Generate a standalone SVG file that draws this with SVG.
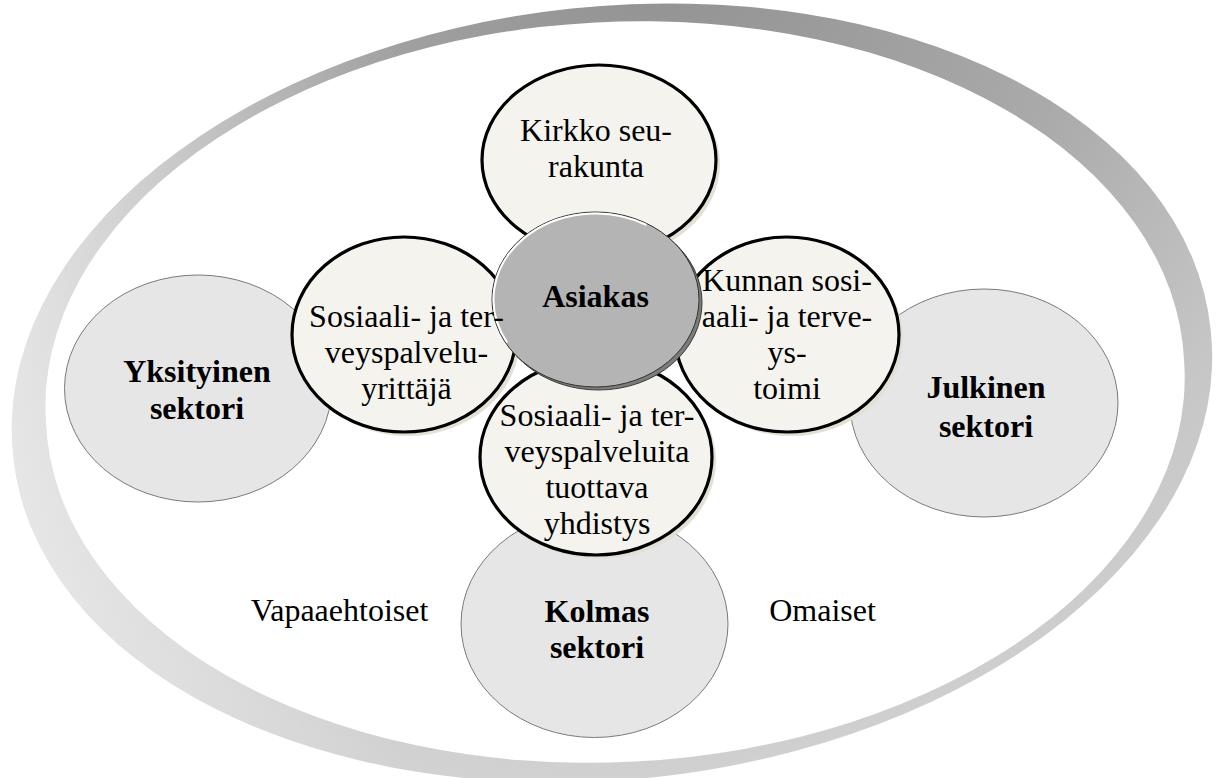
<svg xmlns="http://www.w3.org/2000/svg" width="1225" height="778" viewBox="0 0 1225 778">
  <defs>
    <radialGradient id="ringGrad" gradientUnits="userSpaceOnUse" cx="650" cy="-100" r="900">
      <stop offset="0.12" stop-color="#959595"/>
      <stop offset="0.5" stop-color="#aaaaaa"/>
      <stop offset="0.8" stop-color="#c6c6c6"/>
      <stop offset="1" stop-color="#d2d2d2"/>
    </radialGradient>
    <linearGradient id="leftFade" gradientUnits="userSpaceOnUse" x1="0" y1="0" x2="400" y2="0">
      <stop offset="0" stop-color="#fff" stop-opacity="0.5"/>
      <stop offset="1" stop-color="#fff" stop-opacity="0"/>
    </linearGradient>
    <path id="ringPath" fill-rule="evenodd" d="M1210.7,330.1 A602,385 -6 1 1 13.3,455.9 A602,385 -6 1 1 1210.7,330.1 Z M1184.2,362.2 A570,367 -3 1 1 45.8,421.8 A570,367 -3 1 1 1184.2,362.2 Z"/>
  </defs>
  <style>
    text { font-family: "Liberation Serif", "Times New Roman", serif; font-size: 32px; fill: #000; text-anchor: middle; }
    .b { font-weight: bold; }
    .sector { fill: #e6e6e6; stroke: #7a7a7a; stroke-width: 1; }
    .petal { fill: #f4f3ee; stroke: #000; stroke-width: 3.2; }
    .pshadow { fill: #e3e1d4; }
  </style>
  <rect width="1225" height="778" fill="#fff"/>

  <g id="ring">
    <use href="#ringPath" fill="url(#ringGrad)"/>
    <use href="#ringPath" fill="url(#leftFade)"/>
  </g>

  <g id="yksityinen">
    <ellipse class="sector" cx="198" cy="388.5" rx="133.5" ry="113.5"/>
    <text class="b" x="197" y="382">Yksityinen</text>
    <text class="b" x="197" y="419">sektori</text>
  </g>

  <g id="julkinen">
    <ellipse class="sector" cx="984" cy="403" rx="134" ry="114"/>
    <text class="b" x="986" y="398">Julkinen</text>
    <text class="b" x="986" y="437">sektori</text>
  </g>

  <g id="kolmas">
    <ellipse class="sector" cx="594.5" cy="624" rx="133.5" ry="113.5"/>
    <text class="b" x="597" y="622">Kolmas</text>
    <text class="b" x="597" y="658">sektori</text>
  </g>

  <g id="kirkko">
    <ellipse class="pshadow" cx="603" cy="164" rx="117" ry="95"/>
    <ellipse class="petal" cx="599" cy="160" rx="117" ry="95"/>
  </g>

  <g id="yrittaja">
    <ellipse class="pshadow" cx="408" cy="338.5" rx="112" ry="97.5"/>
    <ellipse class="petal" cx="404" cy="334.5" rx="112" ry="97.5"/>
  </g>

  <g id="kunta">
    <ellipse class="pshadow" cx="791" cy="338.5" rx="112" ry="97.5"/>
    <ellipse class="petal" cx="787" cy="334.5" rx="112" ry="97.5"/>
  </g>

  <g id="yhdistys">
    <ellipse class="pshadow" cx="600" cy="461" rx="116" ry="98"/>
    <ellipse class="petal" cx="596" cy="457" rx="116" ry="98"/>
  </g>

  <g id="asiakas">
    <ellipse cx="598.5" cy="302.5" rx="103.5" ry="87.5" fill="#7c7c7c" stroke="#3a3a3a" stroke-width="1"/>
    <ellipse cx="595.5" cy="299.5" rx="103.5" ry="87.5" fill="#b4b4b4" stroke="#333" stroke-width="1"/>
    <path d="M507.2,342.5 A102,86 0 0 1 646.5,225" fill="none" stroke="#fff" stroke-width="2"/>
    <text class="b" x="595.5" y="307">Asiakas</text>
  </g>

  <g id="kirkko-label">
    <text x="596" y="141">Kirkko seu-</text>
    <text x="596" y="177">rakunta</text>
  </g>

  <g id="yrittaja-label">
    <text x="406.5" y="327">Sosiaali- ja ter-</text>
    <text x="406.5" y="363">veyspalvelu-</text>
    <text x="406.5" y="399">yrittäjä</text>
  </g>

  <g id="kunta-label">
    <text x="787" y="291">Kunnan sosi-</text>
    <text x="787" y="327">aali- ja terve-</text>
    <text x="787" y="363">ys-</text>
    <text x="787" y="399">toimi</text>
  </g>

  <g id="yhdistys-label">
    <text x="597" y="426">Sosiaali- ja ter-</text>
    <text x="597" y="462">veyspalveluita</text>
    <text x="597" y="498">tuottava</text>
    <text x="597" y="534">yhdistys</text>
  </g>

  <g id="labels">
    <text x="339.5" y="621">Vapaaehtoiset</text>
    <text x="822.5" y="621">Omaiset</text>
  </g>

  <g id="connectors"></g>
</svg>
